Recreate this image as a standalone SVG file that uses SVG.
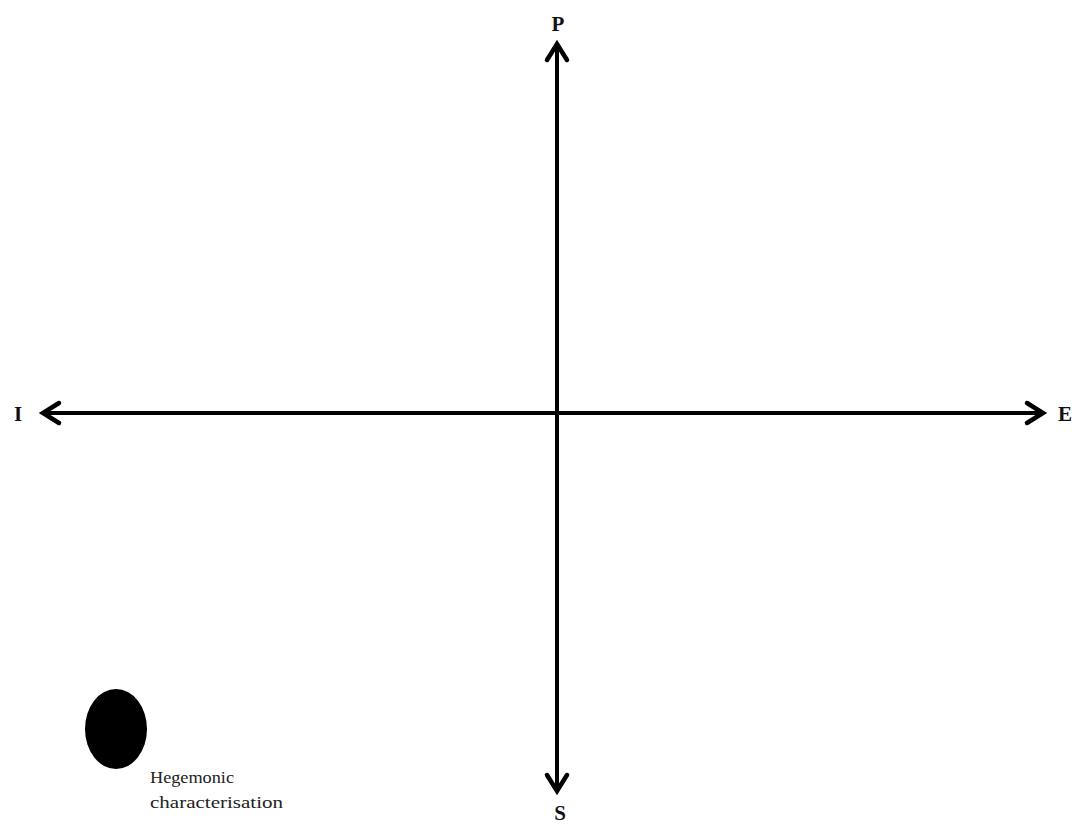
<svg xmlns="http://www.w3.org/2000/svg" width="1075" height="825" viewBox="0 0 1075 825">
<style>
.axis{stroke:#000;stroke-width:4;fill:none}
.head{stroke:#000;stroke-width:4.5;fill:none;stroke-linecap:round;stroke-linejoin:miter}
.lbl{font-family:"Liberation Serif",serif;font-weight:bold;font-size:21px;fill:#111;text-anchor:middle}
.note{font-family:"Liberation Serif",serif;font-size:17px;fill:#222}
</style>
<rect width="1075" height="825" fill="#fff"/>
<g id="connectors">
<line class="axis" x1="557" y1="44" x2="557" y2="791"/>
<line class="axis" x1="43" y1="413" x2="1043" y2="413"/>
<polyline class="head" points="547,60 557,44 567,60"/>
<polyline class="head" points="547,775 557,791 567,775"/>
<polyline class="head" points="59,403 43,413 59,423"/>
<polyline class="head" points="1027,403 1043,413 1027,423"/>
</g>
<g id="label-P"><text class="lbl" x="558" y="31">P</text></g>
<g id="label-I"><text class="lbl" x="18" y="421">I</text></g>
<g id="label-E"><text class="lbl" x="1065" y="421">E</text></g>
<g id="label-S"><text class="lbl" x="560" y="820">S</text></g>
<g id="legend">
<ellipse cx="116" cy="729" rx="31" ry="40" fill="#000"/>
<text class="note" x="150" y="783" textLength="84" lengthAdjust="spacingAndGlyphs">Hegemonic</text>
<text class="note" x="150" y="808" textLength="133" lengthAdjust="spacingAndGlyphs">characterisation</text>
</g>
</svg>
